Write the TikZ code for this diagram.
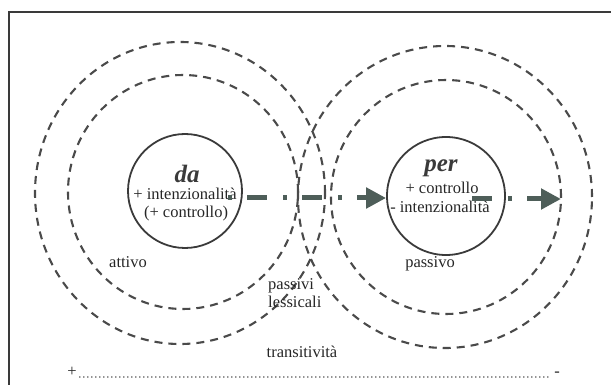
\documentclass[tikz,border=0pt]{standalone}
\usepackage{fontspec}
\setmainfont{Liberation Serif}
\usetikzlibrary{arrows.meta}
\definecolor{dashgray}{HTML}{4A4A4A}
\definecolor{arrowgray}{HTML}{4E5E59}
\definecolor{framegray}{HTML}{3A3A3A}
\tikzset{
  ring/.style={draw=dashgray, line width=2.1pt, dash pattern=on 8pt off 6pt},
  core/.style={draw=framegray, line width=1.8pt, circle, inner sep=0pt},
  lbl/.style={font=\fontsize{16.5}{16.5}\selectfont, text=black!85, inner sep=0pt, anchor=base},
  prep/.style={font=\fontsize{25}{25}\selectfont\bfseries\itshape, text=framegray, inner sep=0pt, anchor=base},
  flow/.style={draw=arrowgray, line width=5pt, -{Triangle[length=20pt,width=20pt]}},
}
\begin{document}
\begin{tikzpicture}[x=1pt,y=-1pt]
\useasboundingbox (0,0) rectangle (611,385);
% frame
\draw[framegray, line width=1.8pt] (9,385) -- (9,12) -- (611,12);
% rings
\draw[ring] (180,193) ellipse [x radius=145pt, y radius=151pt];
\draw[ring] (183,192) ellipse [x radius=115pt, y radius=117pt];
\draw[ring] (445,197) ellipse [x radius=147pt, y radius=151pt];
\draw[ring] (446,197) ellipse [x radius=115pt, y radius=117pt];
% core circles
\node[core, minimum size=114pt] (da) at (185,191) {};
\node[core, minimum size=118pt] (per) at (446,196) {};
% texts
\node[prep] (tda) at (187,183) {da};
\node[lbl] (t1) at (185,200) {+ intenzionalità};
\node[lbl] (t2) at (186,218) {(+ controllo)};
\node[prep] (tper) at (441,172) {per};
\node[lbl] (t3) at (442,194) {+ controllo};
\node[lbl] (t4) at (440,213) {- intenzionalità};
\node[lbl] (att) at (128,267) {attivo};
\node[lbl] (pas) at (430,267) {passivo};
\node[lbl, anchor=base west] (pl1) at (268,289) {passivi};
\node[lbl, anchor=base west] (pl2) at (268,307) {lessicali};
\node[lbl] (tr) at (302,357) {transitività};
\node[lbl] (plus) at (72,376) {+};
\node[lbl] (minus) at (557,376) {-};
% arrows
\coordinate (a1s) at (228,198);
\coordinate (a2s) at (472,199);
\draw[flow, dash pattern=on 4pt off 15pt on 20pt off 16pt] (a1s) -- (per.west |- a1s);
\draw[flow, dash pattern=on 20pt off 16pt on 4pt off 15pt] (a2s) -- (561,199);
% dotted scale
\draw[black!85, line width=1.7pt, line cap=round, dash pattern=on 0pt off 4pt] ([xshift=3pt,yshift=-1pt]plus.base east) -- ([xshift=-5pt,yshift=-1pt]minus.base west);
\end{tikzpicture}
\end{document}
